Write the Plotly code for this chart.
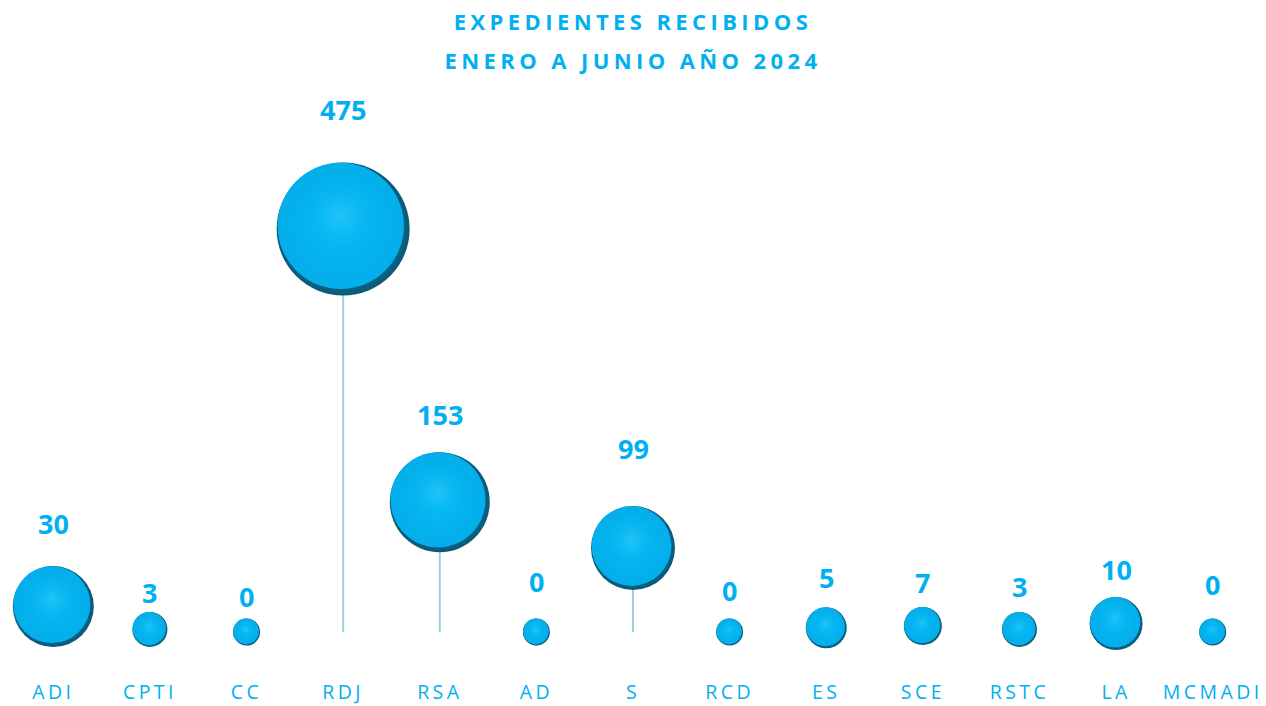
import plotly.graph_objects as go

# ---- data ----
categories = ["ADI", "CPTI", "CC", "RDJ", "RSA", "AD", "S", "RCD", "ES", "SCE", "RSTC", "LA", "MCMADI"]
values = [30, 3, 0, 475, 153, 0, 99, 0, 5, 7, 3, 10, 0]
bubble_sizes = [81, 35, 27, 133, 100, 27, 84, 27, 41, 38, 35, 53, 27]   # bubble diameters (px)
title_line1 = "EXPEDIENTES RECIBIDOS"
title_line2 = "ENERO A JUNIO AÑO 2024"

# ---- style ----
label_gaps = [43, 19, 22, 53, 38, 37, 58, 28, 30, 25, 25, 28, 34]   # label centre above bubble top (px)
TXT = "#00B0F0"
FONT = "Open Sans"
W, H = 1266, 706
mt, mb, ml, mr = 90, 34, 5, 5
px_per_unit = 0.8484
zero_px = 632
y_top = (zero_px - mt) / px_per_unit
y_bot = -((H - mb) - zero_px) / px_per_unit
px_per_x = (W - ml - mr) / len(categories)

xs = list(range(len(categories)))

fig = go.Figure()

# drop lines
for x, v in zip(xs, values):
    fig.add_trace(go.Scatter(x=[x, x], y=[0, v], mode="lines",
                             line=dict(color="#9FD0E0", width=2),
                             hoverinfo="skip", showlegend=False))

# dark base (shadow rim)
fig.add_trace(go.Scatter(x=xs, y=values, mode="markers", hoverinfo="skip", showlegend=False,
                         marker=dict(size=bubble_sizes, sizemode="diameter", color="#0A5A78",
                                     gradient=dict(type="radial", color="#0A9ACB"),
                                     line=dict(width=0), opacity=1)))

# main body, shifted slightly up-left
dx = [-(s * 0.018) / px_per_x for s in bubble_sizes]
dy = [(s * 0.024) / px_per_unit for s in bubble_sizes]
fig.add_trace(go.Scatter(x=[x + d for x, d in zip(xs, dx)],
                         y=[v + d for v, d in zip(values, dy)],
                         mode="markers", hoverinfo="skip", showlegend=False,
                         marker=dict(size=[s * 0.95 for s in bubble_sizes], sizemode="diameter",
                                     color="#04AEEA",
                                     gradient=dict(type="radial", color="#04BAF5"),
                                     line=dict(width=0), opacity=1)))

# top highlight
dy2 = [(s * 0.10) / px_per_unit for s in bubble_sizes]
fig.add_trace(go.Scatter(x=[x + d for x, d in zip(xs, dx)],
                         y=[v + d for v, d in zip(values, dy2)],
                         mode="markers", hoverinfo="skip", showlegend=False,
                         marker=dict(size=[s * 0.6 for s in bubble_sizes], sizemode="diameter",
                                     color="rgba(4,186,245,0)",
                                     gradient=dict(type="radial", color="rgba(110,222,252,0.3)"),
                                     line=dict(width=0), opacity=1)))

# value labels
for x, v, s, g in zip(xs, values, bubble_sizes, label_gaps):
    fig.add_annotation(x=x, y=v, text=f"<b>{v}</b>", showarrow=False,
                       yshift=s / 2 + g, yanchor="middle",
                       font=dict(family=FONT, size=27, color=TXT))

fig.add_annotation(text=f"<b>{title_line2}</b>", xref="paper", yref="paper",
                   x=0.5, y=1 + (mt - 60) / (H - mt - mb), yanchor="middle", showarrow=False,
                   font=dict(family=FONT, size=22, color=TXT))
title2_index = len(categories)

fig.update_layout(
    width=W, height=H,
    margin=dict(l=ml, r=mr, t=mt, b=mb, autoexpand=False),
    paper_bgcolor="white", plot_bgcolor="white",
    title=dict(text=f"<b>{title_line1}</b>", x=0.5, xanchor="center",
               y=1 - 22 / H, yanchor="middle",
               font=dict(family=FONT, size=22, color=TXT)),
    xaxis=dict(range=[-0.5, len(categories) - 0.5], tickmode="array", tickvals=xs,
               ticktext=categories, showgrid=False, zeroline=False, showline=False,
               ticks="", ticklabelstandoff=6, automargin=False,
               tickfont=dict(family=FONT, size=19.5, color=TXT)),
    yaxis=dict(range=[y_bot, y_top], visible=False, showgrid=False, zeroline=False,
               automargin=False),
    showlegend=False,
    hovermode=False,
)

post = """
document.body.style.margin = '0';
var gd = document.querySelector('.plotly-graph-div');
gd.querySelectorAll('.gtitle').forEach(function(e){ e.style.letterSpacing = '4.4px'; });
gd.querySelectorAll('.annotation[data-index="%d"] text').forEach(function(e){ e.style.letterSpacing = '4.4px'; });
gd.querySelectorAll('.xtick text').forEach(function(e){ e.style.letterSpacing = '3.4px'; });
""" % title2_index

fig.write_html("out.html", post_script=post, config={"displayModeBar": False})
